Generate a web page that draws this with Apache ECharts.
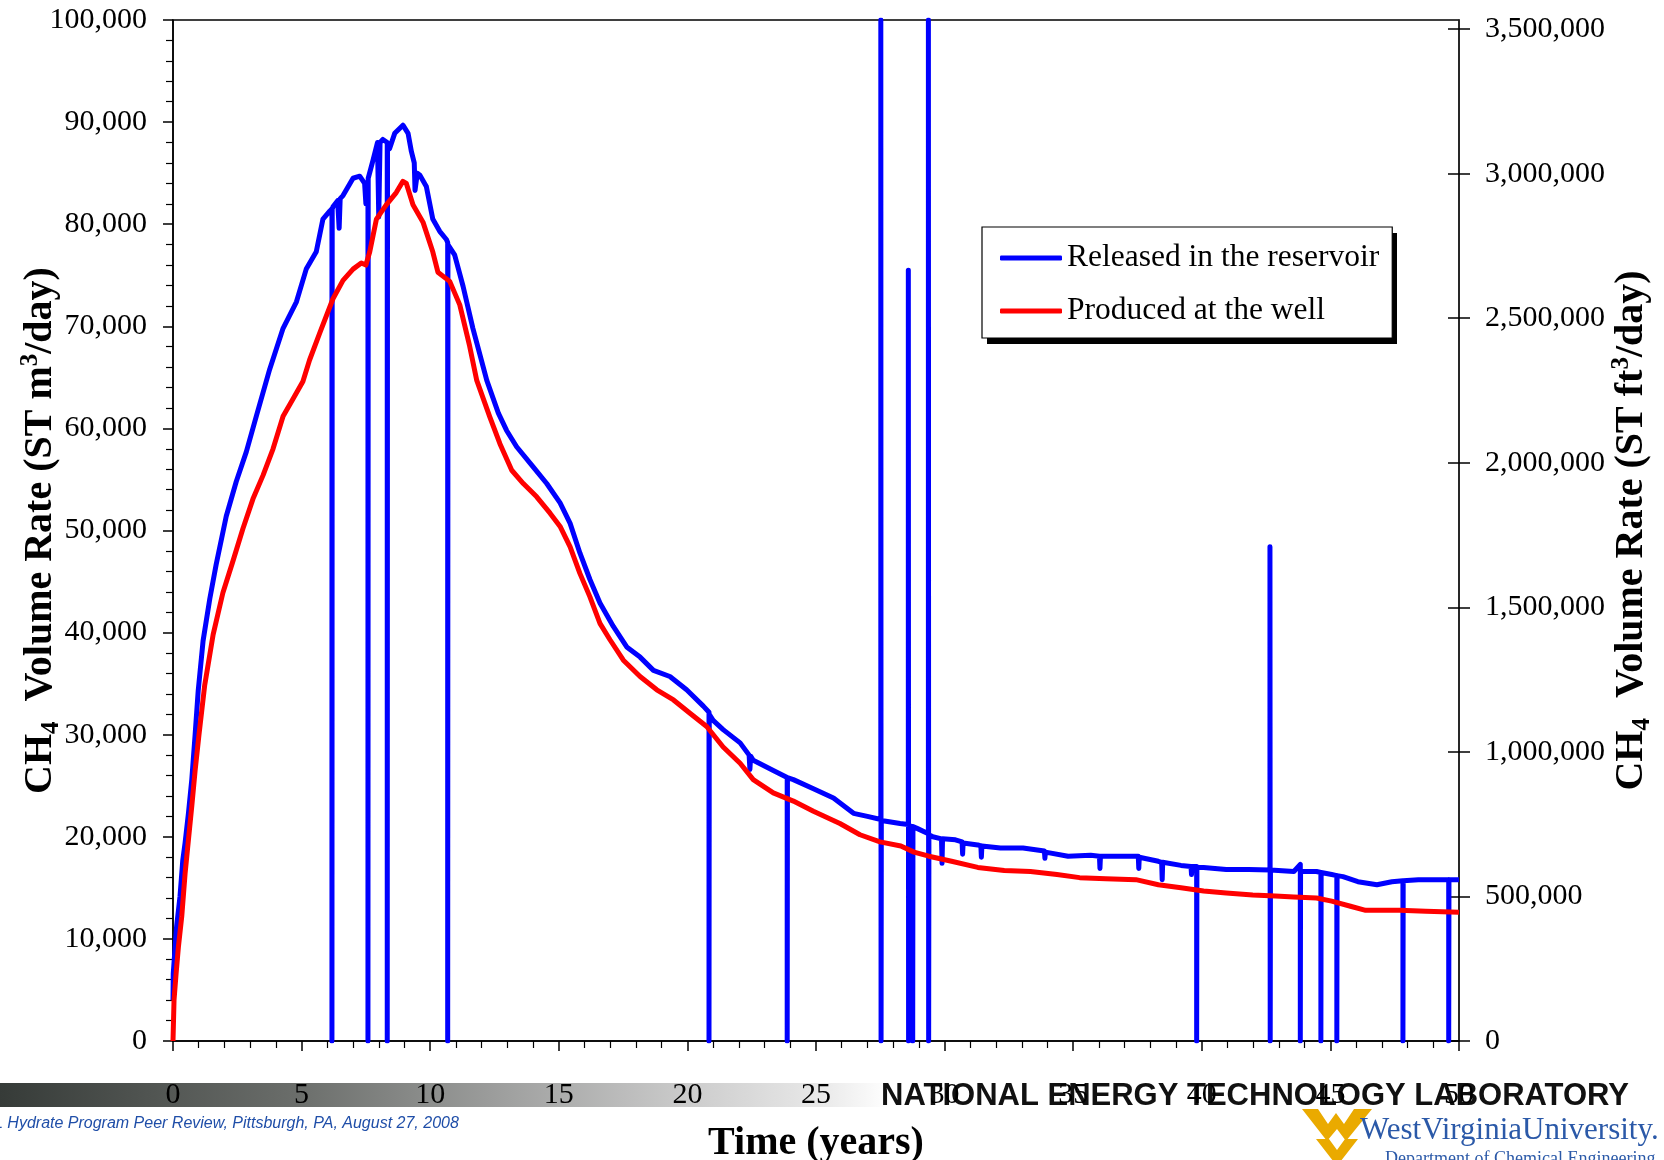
<!DOCTYPE html>
<html><head><meta charset="utf-8">
<script src="https://cdn.jsdelivr.net/npm/echarts@6/dist/echarts.min.js"></script>
<style>html,body{margin:0;padding:0;background:#fff}#c{width:1664px;height:1160px}</style>
</head><body><div id="c"></div>
<script>
// ---- data (time in years, CH4 rate in ST m3/day) ----
const releasedTime = [0,0.01,0.08,0.14,0.27,0.38,0.47,0.60,0.73,0.86,0.98,1.17,1.43,1.68,2.07,2.46,2.85,3.24,3.76,4.28,4.80,5.18,5.57,5.83,6.10,6.18,6.18,6.19,6.22,6.40,6.46,6.50,6.61,7.00,7.26,7.45,7.50,7.55,7.58,7.58,7.59,7.78,7.95,8.00,8.05,8.16,8.33,8.33,8.34,8.42,8.62,8.94,9.14,9.27,9.38,9.41,9.50,9.60,9.85,10.10,10.37,10.63,10.68,10.68,10.69,10.95,11.28,11.66,12.20,12.65,12.97,13.36,14.01,14.53,15.05,15.44,15.82,16.21,16.60,17.12,17.64,18.16,18.68,19.32,19.97,20.62,20.84,20.84,20.85,21.00,21.39,22.05,22.40,22.43,22.46,22.56,23.34,23.88,23.88,23.89,24.12,24.90,25.68,26.46,27.00,27.52,27.52,27.53,27.54,28.27,28.59,28.59,28.60,28.61,28.76,28.76,28.77,28.95,29.37,29.37,29.38,29.39,29.54,29.88,29.90,29.92,30.42,30.68,30.70,30.72,31.29,31.41,31.43,31.45,32.17,33.05,33.88,33.90,33.92,34.80,35.68,36.02,36.04,36.06,36.56,37.43,37.53,37.55,37.57,38.31,38.44,38.46,38.48,39.19,39.58,39.60,39.62,39.80,39.80,39.81,40.07,40.95,41.83,42.65,42.65,42.66,42.67,43.58,43.83,43.83,43.84,44.46,44.63,44.63,44.64,45.05,45.25,45.25,45.26,45.49,46.07,46.81,47.39,47.82,47.82,47.83,48.42,49.30,49.60,49.60,49.61,50.00];
const releasedRate = [4000,6600,9100,11200,14100,17700,19400,22300,25600,30000,34300,39200,43300,46700,51400,54800,57700,61200,65800,69800,72400,75600,77300,80500,81300,81500,0,81500,81700,82300,79600,82500,82800,84500,84700,84000,82000,83500,84000,0,84500,86300,88000,80700,88000,88300,88000,0,87800,87400,88900,89700,88900,87100,86000,83300,85000,84800,83700,80500,79300,78500,78200,0,78000,77000,73900,69800,64700,61500,59800,58200,56200,54600,52700,50700,47800,45200,42900,40600,38600,37600,36300,35700,34400,32800,32200,0,32000,31400,30500,29200,28000,26600,27900,27500,26500,25800,0,25800,25600,24700,23800,22300,22000,21700,100000,0,21600,21300,21200,75500,0,21100,21000,0,21000,20800,20300,100000,0,20200,20000,19800,17400,19800,19700,19500,18300,19400,19200,19100,18000,19100,18900,18900,18600,17900,18500,18100,18200,18100,16900,18100,18100,18100,18100,16900,18000,17600,17500,15800,17500,17200,17100,16300,17100,17100,0,17000,17000,16800,16800,16750,48400,0,16750,16600,17300,0,16600,16600,16500,0,16500,16300,16200,0,16200,16100,15600,15300,15600,15700,0,15700,15800,15800,15800,0,15800,15800];
const producedTime = [0,0.04,0.12,0.21,0.34,0.47,0.60,0.73,0.86,1.01,1.23,1.56,1.94,2.33,2.72,3.11,3.50,3.89,4.28,4.67,5.05,5.31,5.70,6.22,6.61,7.00,7.32,7.50,7.65,7.91,8.29,8.68,8.94,9.07,9.33,9.72,10.10,10.30,10.76,11.15,11.53,11.81,12.32,12.71,13.17,13.62,14.14,14.66,15.05,15.44,15.82,16.21,16.60,16.99,17.51,18.16,18.81,19.46,20.10,20.75,21.39,22.05,22.56,23.34,24.12,24.90,25.93,26.71,27.49,28.30,28.81,29.39,30.27,31.29,32.32,33.34,34.37,35.25,36.27,37.44,38.31,39.19,40.07,40.95,41.98,42.86,43.58,44.46,45.05,45.78,46.37,47.69,48.71,50.00];
const producedRate = [0,4000,6600,9200,12200,16400,19700,23000,26500,30000,34800,39800,43900,47000,50200,53100,55400,58000,61200,62900,64600,66700,69300,72700,74500,75600,76200,76000,77300,80500,81900,83100,84200,84000,81900,80200,77300,75300,74400,72100,68100,64700,61100,58500,55900,54600,53300,51700,50400,48400,45800,43500,40900,39300,37300,35700,34400,33400,32100,30800,28800,27200,25600,24300,23500,22500,21300,20200,19500,19100,18500,18100,17600,17000,16700,16600,16300,16000,15900,15800,15300,15000,14700,14500,14300,14200,14100,14000,13700,13200,12800,12800,12700,12600];
const seriesNames = ['Released in the reservoir', 'Produced at the well'];
const FT3_PER_M3 = 35.3147;
const rightTickValues = [0,500000,1000000,1500000,2000000,2500000,3000000,3500000];

const zip = (a, b) => a.map((t, i) => [t, b[i]]);
const fmt = v => Math.round(v).toLocaleString('en-US');
const SERIF = "'Liberation Serif','Times New Roman',serif";
const titleRich = {
  a: {fontFamily: SERIF, fontSize: 40, fontWeight: 'bold', color: '#000', lineHeight: 46},
  sub: {fontFamily: SERIF, fontSize: 25, fontWeight: 'bold', color: '#000', lineHeight: 25, verticalAlign: 'bottom'},
  sup: {fontFamily: SERIF, fontSize: 25, fontWeight: 'bold', color: '#000', lineHeight: 25, verticalAlign: 'top'}
};

const chart = echarts.init(document.getElementById('c'), null, {renderer: 'canvas'});
const axisLine = {show: true, lineStyle: {color: '#000', width: 1.5}};
chart.setOption({
  animation: false,
  backgroundColor: '#fff',
  grid: {left: 173, right: 205, top: 20, bottom: 119, outerBoundsMode: 'none', containLabel: false,
    show: true, borderColor: '#000', borderWidth: 1.5, backgroundColor: 'transparent'},
  legend: {
    orient: 'vertical', left: 982, top: 227, z: 10,
    data: seriesNames,
    icon: 'roundRect', itemWidth: 62, itemHeight: 5, itemGap: 19,
    padding: [14, 13, 10, 18],
    backgroundColor: '#fff', borderColor: '#000', borderWidth: 1.2, borderRadius: 0,
    textStyle: {fontFamily: SERIF, fontSize: 31.5, color: '#000', lineHeight: 34}
  },
  xAxis: {
    type: 'value', min: 0, max: 50, interval: 5,
    name: 'Time (years)', nameLocation: 'middle', nameGap: 83, nameMoveOverlap: false,
    nameTextStyle: {fontFamily: SERIF, fontSize: 40, fontWeight: 'bold', color: '#000'},
    axisLine: axisLine,
    axisTick: {show: true, inside: false, length: 10, lineStyle: {color: '#000', width: 1.5}},
    minorTick: {show: true, splitNumber: 5, length: 7, lineStyle: {color: '#000', width: 1.2}},
    axisLabel: {fontFamily: SERIF, fontSize: 30, color: '#000', margin: 39},
    splitLine: {show: false}
  },
  yAxis: [
    {
      type: 'value', position: 'left', min: 0, max: 100000, interval: 10000,
      name: '{a|CH}{sub|4}{a|  Volume Rate (ST m}{sup|3}{a|/day)}',
      nameLocation: 'middle', nameRotate: 90, nameGap: 109, nameMoveOverlap: false,
      nameTextStyle: {rich: titleRich},
      axisLine: axisLine,
      axisTick: {show: true, inside: false, length: 10, lineStyle: {color: '#000', width: 1.5}},
      minorTick: {show: true, splitNumber: 5, length: 7, lineStyle: {color: '#000', width: 1.2}},
      axisLabel: {fontFamily: SERIF, fontSize: 30, color: '#000', margin: 26, formatter: fmt},
      splitLine: {show: false}
    },
    {
      type: 'value', position: 'right', min: 0, max: 100000 * FT3_PER_M3,
      name: '{a|CH}{sub|4}{a|  Volume Rate (ST ft}{sup|3}{a|/day)}',
      nameLocation: 'middle', nameRotate: 90, nameGap: 150, nameMoveOverlap: false,
      nameTextStyle: {rich: titleRich},
      axisLine: {show: true, lineStyle: {color: '#222', width: 1.5}},
      axisTick: {show: true, inside: false, length: 11, customValues: rightTickValues, lineStyle: {color: '#000', width: 1.5}},
      axisLabel: {fontFamily: SERIF, fontSize: 30, color: '#000', margin: 26, customValues: rightTickValues, formatter: fmt},
      splitLine: {show: false}
    },
    {
      type: 'value', position: 'right', min: 0, max: 100000 * FT3_PER_M3,
      axisLine: {show: false},
      axisTick: {show: true, inside: true, length: 11, customValues: rightTickValues, lineStyle: {color: '#000', width: 1.5}},
      axisLabel: {show: false},
      splitLine: {show: false}
    }
  ],
  series: [
    {
      name: seriesNames[0], type: 'line', yAxisIndex: 0, showSymbol: false, symbol: 'none',
      data: zip(releasedTime, releasedRate),
      itemStyle: {color: '#0000ff'},
      lineStyle: {color: '#0000ff', width: 5, join: 'round'}, z: 2
    },
    {
      name: seriesNames[1], type: 'line', yAxisIndex: 0, showSymbol: false, symbol: 'none',
      data: zip(producedTime, producedRate),
      itemStyle: {color: '#ff0000'},
      lineStyle: {color: '#ff0000', width: 5, join: 'round'}, z: 3
    }
  ],
  graphic: {
    elements: [
      {
        type: 'rect', z: 8, shape: {x: 987, y: 233, width: 410, height: 111},
        style: {fill: '#000'}
      },
      {
        type: 'rect', z: -5, shape: {x: 0, y: 1083, width: 890, height: 24},
        style: {fill: new echarts.graphic.LinearGradient(0, 0, 1, 0, [
          {offset: 0, color: '#363b38'}, {offset: 0.33, color: '#6a6d6a'},
          {offset: 0.55, color: '#9b9c9b'}, {offset: 0.78, color: '#cdcdcd'},
          {offset: 0.92, color: '#e8e8e8'}, {offset: 1, color: '#ffffff'}])}
      },
      {
        type: 'text', z: -4, x: 881, y: 1096,
        style: {text: 'NATIONAL ENERGY TECHNOLOGY LABORATORY', fill: '#111',
          font: "bold 31px 'Liberation Sans', Arial, sans-serif", align: 'left', verticalAlign: 'middle',
          textAlign: 'left', textVerticalAlign: 'middle'}
      },
      {
        type: 'text', z: -4, x: -6, y: 1124,
        style: {text: 'L Hydrate Program Peer Review, Pittsburgh, PA, August 27, 2008', fill: '#1f4ea8',
          font: "italic 16px 'Liberation Sans', Arial, sans-serif", align: 'left', verticalAlign: 'middle',
          textAlign: 'left', textVerticalAlign: 'middle'}
      },
      {
        type: 'polygon', z: -4,
        shape: {points: [[1302,1109],[1318,1109],[1328,1124],[1336,1113],[1344,1124],[1354,1109],[1372,1109],[1346,1141],[1337,1129],[1327,1141]]},
        style: {fill: '#eaaa00'}
      },
      {
        type: 'polygon', z: -4,
        shape: {points: [[1316,1139],[1329,1139],[1337,1150],[1345,1139],[1358,1139],[1337,1166]]},
        style: {fill: '#eaaa00'}
      },
      {
        type: 'text', z: -4, x: 1360, y: 1131,
        style: {text: 'WestVirginiaUniversity.', fill: '#2b59a8',
          font: "31px 'Liberation Serif', serif", align: 'left', verticalAlign: 'middle',
          textAlign: 'left', textVerticalAlign: 'middle'}
      },
      {
        type: 'text', z: -4, x: 1385, y: 1159,
        style: {text: 'Department of Chemical Engineering', fill: '#2b59a8',
          font: "18px 'Liberation Serif', serif", align: 'left', verticalAlign: 'middle',
          textAlign: 'left', textVerticalAlign: 'middle'}
      }
    ]
  }
});
</script>
</body></html>
